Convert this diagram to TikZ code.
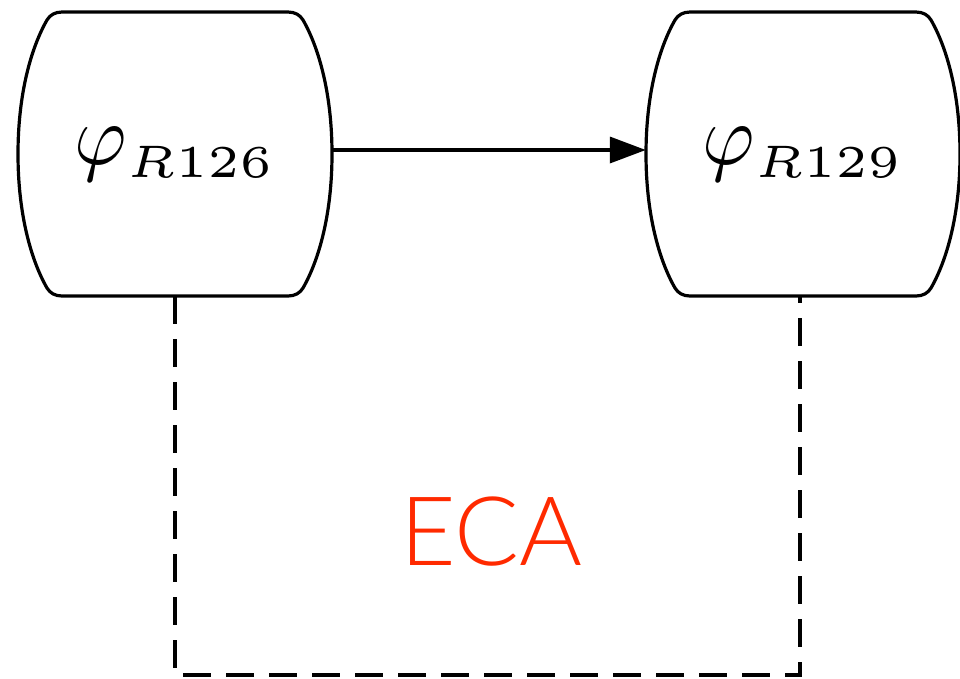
\documentclass[tikz,border=0pt]{standalone}
\usepackage{fontspec}
\usepackage{tikz}
\usetikzlibrary{arrows.meta, positioning, calc}
\newfontfamily\ecafont{Lato Light}
\definecolor{ecaRed}{HTML}{FF2A00}
\definecolor{inkBlack}{HTML}{000000}
\tikzset{
  slot/.style  = {draw=none, minimum width=314pt, minimum height=284pt, inner sep=0pt},
  outline/.style = {draw=inkBlack, line width=3.2pt},
  fl/.style    = {-{Triangle[length=36pt, width=26pt]}, draw=inkBlack, line width=3.6pt},
  link/.style  = {draw=inkBlack, line width=3.2pt, dash pattern=on 28pt off 15pt},
  tag/.style   = {font=\ecafont\fontsize{96}{100}\selectfont, text=ecaRed, inner sep=0pt}
}
% phi with a small subscript, blown up
\newcommand{\phisub}[1]{%
  \scalebox{8.0}[8.6]{$\varphi_{\scalebox{1.18}[1.06]{$\scriptscriptstyle R#1$}}$}}
% barrel outline around a slot node
\newcommand{\barrel}[1]{%
  \draw[outline, shift={(#1.center)}]
    (-113,142) -- (113,142)
    .. controls (120,142) and (125,139) .. (128,134)
    .. controls (144,106) and (157,60) .. (157,0)
    .. controls (157,-60) and (144,-106) .. (128,-134)
    .. controls (125,-139) and (120,-142) .. (113,-142)
    -- (-113,-142)
    .. controls (-120,-142) and (-125,-139) .. (-128,-134)
    .. controls (-144,-106) and (-157,-60) .. (-157,0)
    .. controls (-157,60) and (-144,106) .. (-128,134)
    .. controls (-125,139) and (-120,142) .. (-113,142) -- cycle;}

\begin{document}
\begin{tikzpicture}[x=1pt, y=1pt]
  \useasboundingbox (0,0) rectangle (960,-678);
  \node[slot] (r126) at (175,-154) {\phisub{126}};
  \node[slot] (r129) at (803,-154) {\phisub{129}};
  \barrel{r126}
  \barrel{r129}
  \draw[fl] ([yshift=4pt]r126.east) -- ([yshift=4pt]r129.west);

  % loop between the two
  \coordinate (lowL) at (175,-675);
  \coordinate (lowR) at (800,-675);
  \draw[link] (r126.south) -- (lowL) -- (lowR) -- (lowR |- r129.south);
  \node[tag] (eca) at (491,-532) {ECA};
\end{tikzpicture}
\end{document}
